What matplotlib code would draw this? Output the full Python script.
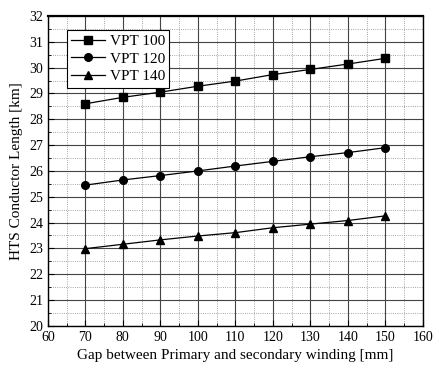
import matplotlib.pyplot as plt

plt.rcParams['font.family'] = ['Liberation Serif', 'DejaVu Serif']

gap = [70, 80, 90, 100, 110, 120, 130, 140, 150]
vpt100 = [28.6, 28.85, 29.05, 29.28, 29.48, 29.73, 29.93, 30.14, 30.36]
vpt120 = [25.45, 25.65, 25.82, 26.0, 26.19, 26.37, 26.55, 26.71, 26.9]
vpt140 = [22.99, 23.16, 23.33, 23.48, 23.61, 23.8, 23.94, 24.08, 24.26]

fig = plt.figure(figsize=(4.35, 3.72), dpi=100)
ax = fig.add_axes([0.110, 0.124, 0.862, 0.833])

ax.plot(gap, vpt100, '-s', color='black', lw=0.9, ms=5.5, label='VPT 100')
ax.plot(gap, vpt120, '-o', color='black', lw=0.9, ms=5.5, label='VPT 120')
ax.plot(gap, vpt140, '-^', color='black', lw=0.9, ms=6, label='VPT 140')

ax.set_xlim(60, 160)
ax.set_ylim(20, 32)
ax.set_xticks(range(60, 161, 10))
ax.set_yticks(range(20, 33, 1))
ax.set_xticks(range(65, 160, 10), minor=True)
ax.set_yticks([v + 0.5 for v in range(20, 32)], minor=True)
ax.grid(which='major', color='#444444', lw=0.8, ls='-')
ax.grid(which='minor', color='#888888', lw=0.6, ls=':')
ax.tick_params(which='both', direction='in', labelsize=10)
ax.tick_params(which='major', length=4)
ax.tick_params(which='minor', length=2)
for s in ax.spines.values():
    s.set_linewidth(1.0)
ax.spines['top'].set_linewidth(1.6)

ax.set_xlabel('Gap between Primary and secondary winding [mm]', fontsize=11)
ax.set_ylabel('HTS Conductor Length [km]', fontsize=11)

leg = ax.legend(loc='upper left', fontsize=11, frameon=True, fancybox=False,
                edgecolor='black', framealpha=1, handlelength=2.2,
                borderpad=0.3, labelspacing=0.25, handletextpad=0.3,
                bbox_to_anchor=(0.03, 0.98))
leg.get_frame().set_linewidth(0.8)

fig.savefig('out.png', dpi=100)
